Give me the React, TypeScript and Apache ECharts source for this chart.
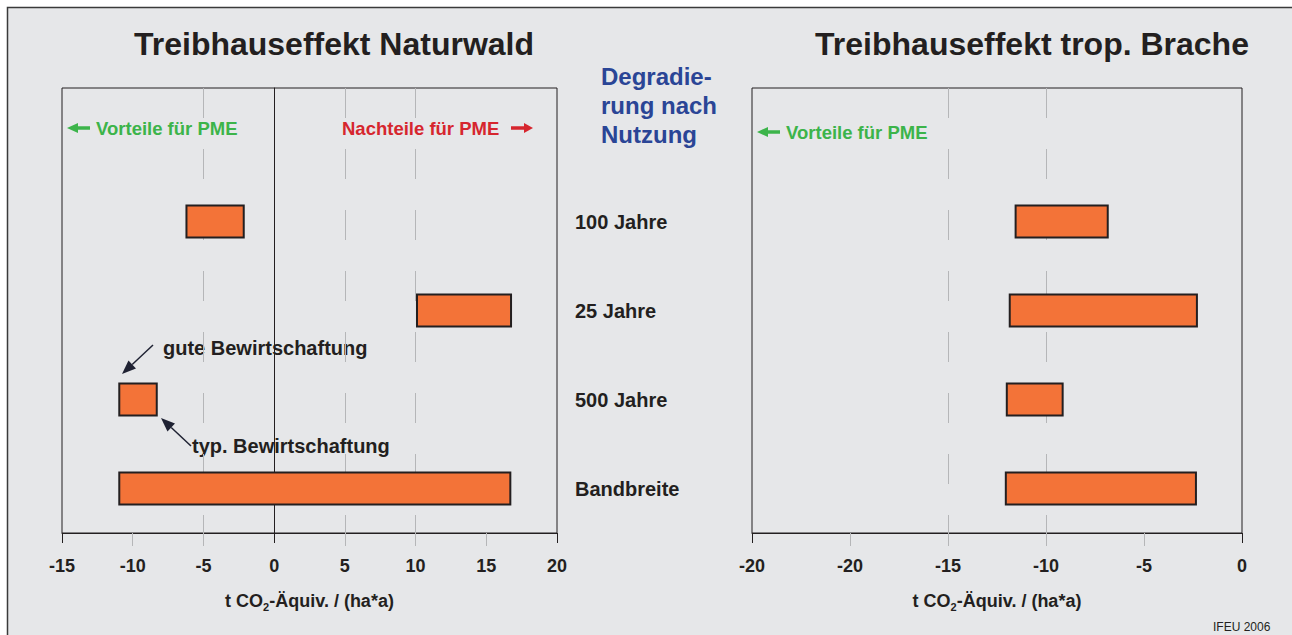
import React, { useEffect, useRef } from "react";
import * as echarts from "echarts";

// ---- data ----
const categories = ["", "100 Jahre", "25 Jahre", "500 Jahre", "Bandbreite"];
const rowIndex = [1, 2, 3, 4];
const naturwaldStart = [-6.2, 10.1, -10.95, -10.95];
const naturwaldEnd = [-2.15, 16.75, -8.3, 16.7];
const bracheStart = [-11.55, -11.85, -12.0, -12.05];
const bracheEnd = [-6.85, -2.3, -9.15, -2.35];
const leftTickLabels = ["-15", "-10", "-5", "0", "5", "10", "15", "20"];
const rightTickLabels = ["-20", "-20", "-15", "-10", "-5", "0"];
const leftMin = -15, leftMax = 20;
const rightMin = -25, rightMax = 0;
const step = 5;

const FONT = '"Liberation Sans", Arial, Helvetica, sans-serif';
const DARK = "#231f20";
const GRIDC = "#b5b6b8";
const BAR = "#f37338";

function arrowEl(x1: number, y1: number, x2: number, y2: number, color: string, lw: number, hl: number, hw: number) {
  const ang = Math.atan2(y2 - y1, x2 - x1);
  const bx = x2 - hl * Math.cos(ang), by = y2 - hl * Math.sin(ang);
  const px = (-Math.sin(ang) * hw) / 2, py = (Math.cos(ang) * hw) / 2;
  return [
    { type: "line", shape: { x1, y1, x2: bx, y2: by }, style: { stroke: color, lineWidth: lw } },
    { type: "polygon", shape: { points: [[x2, y2], [bx + px, by + py], [bx - px, by - py]] }, style: { fill: color } },
  ];
}

function renderBar(params: any, api: any) {
  const cat = api.value(2);
  const s = api.coord([api.value(0), cat]);
  const e = api.coord([api.value(1), cat]);
  const h = api.size([0, 1])[1] * 0.36;
  return {
    type: "rect",
    shape: { x: s[0], y: s[1] - h / 2, width: e[0] - s[0], height: h },
    style: { fill: BAR, stroke: DARK, lineWidth: 2 },
  };
}

const nameRich = {
  sub: { fontSize: 11, fontWeight: "bold", fontFamily: FONT, color: DARK, padding: [12, 0, 0, 0] },
};

function makeX(gridIndex: number, min: number, max: number, labels: string[], grayTicks: number[]) {
  return {
    type: "value",
    gridIndex,
    min,
    max,
    interval: step,
    position: "bottom",
    z: 0,
    axisLine: { show: true, onZero: false, lineStyle: { color: DARK, width: 1 } },
    axisTick: { show: true, length: 13, customValues: grayTicks, lineStyle: { color: GRIDC, width: 1 } },
    splitLine: { show: true, showMinLine: false, showMaxLine: false, lineStyle: { color: GRIDC, width: 1, type: [30, 31] } },
    axisLabel: {
      margin: 24,
      fontSize: 18,
      fontWeight: "bold",
      fontFamily: FONT,
      color: DARK,
      formatter: (v: number) => labels[Math.round((v - min) / step)] ?? "",
    },
    name: "t CO{sub|2}-Äquiv. / (ha*a)",
    nameLocation: "middle",
    nameGap: 56,
    nameTextStyle: { fontSize: 18, fontWeight: "bold", fontFamily: FONT, color: DARK, rich: nameRich },
  };
}

function makeBlackTicks(gridIndex: number, min: number, max: number, vals: number[]) {
  return {
    type: "value",
    gridIndex,
    min,
    max,
    interval: step,
    position: "bottom",
    z: 1,
    axisLine: { show: false },
    axisLabel: { show: false },
    splitLine: { show: false },
    axisTick: { show: true, length: 10, customValues: vals, lineStyle: { color: DARK, width: 1 } },
  };
}

export default function App() {
  const ref = useRef<HTMLDivElement>(null);
  useEffect(() => {
    if (!ref.current) return;
    const chart = echarts.init(ref.current, undefined, { renderer: "svg" });
    const leftData = rowIndex.map((r, i) => [naturwaldStart[i], naturwaldEnd[i], r]);
    const rightData = rowIndex.map((r, i) => [bracheStart[i], bracheEnd[i], r]);
    const txt = (x: number, y: number, text: string, size: number, color: string, extra: any = {}) => ({
      type: "text",
      x,
      y,
      style: {
        text,
        fill: color,
        font: `${extra.weight ?? "bold"} ${size}px ${FONT}`,
        textAlign: extra.align ?? "left",
        textVerticalAlign: extra.valign ?? "middle",
        lineHeight: extra.lineHeight,
      },
    });
    chart.setOption({
      animation: false,
      backgroundColor: "#ffffff",
      grid: [
        { left: 62, top: 88, width: 495, height: 445, show: true, borderColor: DARK, borderWidth: 1, backgroundColor: "transparent" },
        { left: 752, top: 88, width: 490, height: 445, show: true, borderColor: DARK, borderWidth: 1, backgroundColor: "transparent" },
      ],
      xAxis: [
        makeX(0, leftMin, leftMax, leftTickLabels, [-10, -5, 5, 10, 15]),
        makeX(1, rightMin, rightMax, rightTickLabels, [-20, -15, -10, -5]),
        makeBlackTicks(0, leftMin, leftMax, [-15, 0, 20]),
        makeBlackTicks(1, rightMin, rightMax, [-25, 0]),
      ],
      yAxis: [
        {
          type: "category",
          gridIndex: 0,
          data: categories,
          inverse: true,
          z: 1,
          axisLine: { show: true, onZero: true, lineStyle: { color: DARK, width: 1 } },
          axisTick: { show: false },
          axisLabel: { show: false },
          splitLine: { show: false },
        },
        {
          type: "category",
          gridIndex: 1,
          data: categories,
          inverse: true,
          axisLine: { show: false, onZero: false },
          axisTick: { show: false },
          splitLine: { show: false },
          axisLabel: { show: true, align: "left", margin: 177, fontSize: 20, fontWeight: "bold", fontFamily: FONT, color: DARK },
        },
      ],
      series: [
        { type: "custom", xAxisIndex: 0, yAxisIndex: 0, encode: { x: [0, 1], y: 2 }, data: leftData, renderItem: renderBar, z: 3 },
        { type: "custom", xAxisIndex: 1, yAxisIndex: 1, encode: { x: [0, 1], y: 2 }, data: rightData, renderItem: renderBar, z: 3 },
      ],
      graphic: [
        { type: "rect", z: -100, shape: { x: 7.5, y: 7.5, width: 1400, height: 700 }, style: { fill: "#e6e7e9", stroke: "#3a3a3a", lineWidth: 1.5 } },
        txt(334, 44, "Treibhauseffekt Naturwald", 32, DARK, { align: "center" }),
        txt(1032, 44, "Treibhauseffekt trop. Brache", 32, DARK, { align: "center" }),
        txt(601, 62, "Degradie-\nrung nach\nNutzung", 24, "#2a4596", { valign: "top", lineHeight: 29 }),
        ...arrowEl(90, 128, 67, 128, "#3cb44a", 3.5, 11, 10),
        txt(96, 128, "Vorteile für PME", 18.5, "#3cb44a"),
        ...arrowEl(780, 132, 757, 132, "#3cb44a", 3.5, 11, 10),
        txt(786, 132, "Vorteile für PME", 18.5, "#3cb44a"),
        txt(342, 128, "Nachteile für PME", 18.5, "#d6262e"),
        ...arrowEl(511, 128, 533, 128, "#d6262e", 3.5, 9, 10),
        txt(163, 348, "gute Bewirtschaftung", 20, DARK),
        ...arrowEl(153, 345, 122, 374, "#1f2233", 1.5, 14, 11),
        txt(192, 446, "typ. Bewirtschaftung", 20, DARK),
        ...arrowEl(191, 446, 161, 418, "#1f2233", 1.5, 14, 11),
        txt(1213, 621, "IFEU 2006", 12, DARK, { weight: "normal", valign: "top" }),
      ],
    });
    return () => chart.dispose();
  }, []);
  return <div ref={ref} style={{ position: "fixed", left: 0, top: 0, width: 1292, height: 635 }} />;
}
